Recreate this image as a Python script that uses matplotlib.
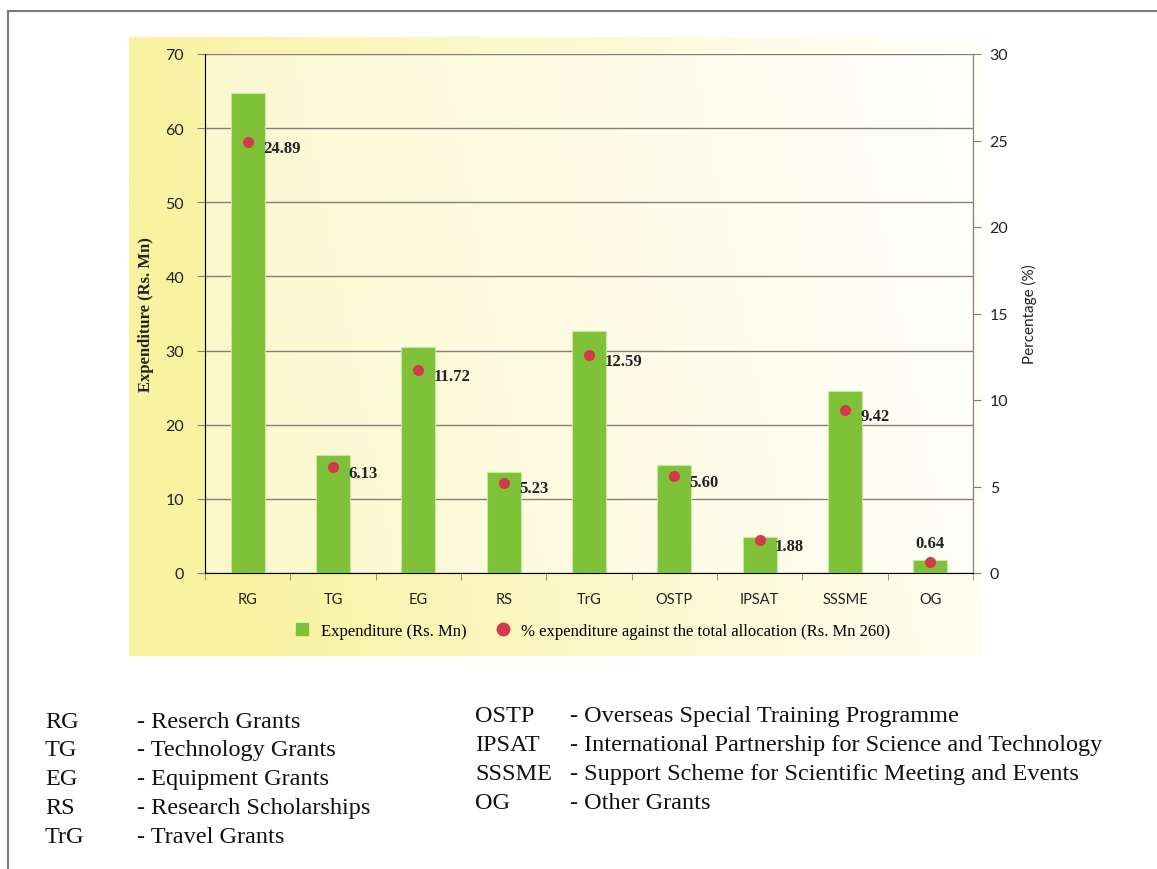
import numpy as np
import matplotlib
matplotlib.use("Agg")
import matplotlib.pyplot as plt
from matplotlib.lines import Line2D

categories = ["RG", "TG", "EG", "RS", "TrG", "OSTP", "IPSAT", "SSSME", "OG"]
expenditure = [64.7, 15.9, 30.5, 13.6, 32.7, 14.6, 4.9, 24.5, 1.7]
percentage = [24.89, 6.13, 11.72, 5.23, 12.59, 5.60, 1.88, 9.42, 0.64]

abbr_left = ["RG", "TG", "EG", "RS", "TrG"]
desc_left = ["- Reserch Grants", "- Technology Grants", "- Equipment Grants",
             "- Research Scholarships", "- Travel Grants"]
abbr_right = ["OSTP", "IPSAT", "SSSME", "OG"]
desc_right = ["- Overseas Special Training Programme",
              "- International Partnership for Science and Technology",
              "- Support Scheme for Scientific Meeting and Events",
              "- Other Grants"]

W, H = 1157, 870
fig = plt.figure(figsize=(W / 100, H / 100), dpi=100)

SERIF = "Liberation Serif"
SANS = "Lato"

# yellow panel behind the chart
bg = fig.add_axes([129 / W, 1 - 657 / H, (981 - 129) / W, (657 - 38) / H])
gx = np.linspace(0, 1, 300)
gy = np.linspace(0, 1, 200)
GX, GY = np.meshgrid(gx, gy)
t = np.clip(GX * 1.05 - 0.15 * (1 - GY), 0, 1) ** 0.9
c0 = np.array([249, 242, 160]) / 255
c1 = np.array([255, 255, 248]) / 255
img = c0[None, None, :] * (1 - t[..., None]) + c1[None, None, :] * t[..., None]
bg.imshow(img, aspect="auto", extent=(0, 1, 0, 1), origin="lower")
bg.set_axis_off()

ax = fig.add_axes([205 / W, 1 - 574 / H, (973 - 205) / W, (574 - 55) / H])
ax.set_facecolor((1, 1, 1, 0.45))
x = np.arange(len(categories))
ax.bar(x, expenditure, width=0.4, color="#80c13a", edgecolor="#c8e89a",
       linewidth=0.8, zorder=3)
ax.set_xlim(-0.5, len(categories) - 0.5)
ax.set_ylim(0, 70)
ax.set_yticks(range(0, 71, 10))
ax.grid(axis="y", color="#8a7d78", linewidth=1.0, zorder=0)
ax.set_xticks(x)
ax.set_xticklabels(categories, fontfamily=SANS, fontsize=10.5, color="#222222")
ax.set_xticks(np.arange(-0.5, len(categories)), minor=True)
ax.tick_params(axis="x", which="major", length=0, pad=14)
ax.tick_params(axis="x", which="minor", length=5, color="#8a7d78")
ax.tick_params(axis="y", length=6, color="#8a7d78", labelsize=11.5,
               labelcolor="#222222", pad=9)
for lab in ax.get_yticklabels():
    lab.set_fontfamily(SANS)
ax.spines["top"].set_visible(False)
for s in ["left", "bottom", "right"]:
    ax.spines[s].set_color("#8a7d78")
ax.set_ylabel("Expenditure (Rs. Mn)", fontfamily=SERIF, fontweight="bold",
              fontsize=12, color="#222222")
ax.yaxis.set_label_coords(-0.066, 0.5)

ax2 = ax.twinx()
ax2.set_ylim(0, 30)
ax2.set_yticks(range(0, 31, 5))
ax2.plot(x, percentage, "o", color="#d43a4c", markersize=7, zorder=5)
for xi, p in zip(x, percentage):
    if p < 1:
        ax2.annotate(f"{p:.2f}", (xi, p), xytext=(0, 8), textcoords="offset points",
                     ha="center", va="bottom", fontfamily=SERIF, fontweight="bold",
                     fontsize=12, color="#222222")
    else:
        ax2.annotate(f"{p:.2f}", (xi, p), xytext=(11, -4), textcoords="offset points",
                     ha="left", va="center", fontfamily=SERIF, fontweight="bold",
                     fontsize=12, color="#222222")
ax2.tick_params(axis="y", length=6, color="#8a7d78", labelsize=11.5,
                labelcolor="#222222", pad=6)
for lab in ax2.get_yticklabels():
    lab.set_fontfamily(SANS)
ax2.spines["top"].set_visible(False)
ax2.spines["right"].set_color("#8a7d78")
ax2.set_ylabel("Percentage (%)", fontfamily=SANS, fontsize=11, color="#222222")
ax2.yaxis.set_label_coords(1.064, 0.5)

handles = [Line2D([], [], marker="s", linestyle="none", color="#80c13a", markersize=9),
           Line2D([], [], marker="o", linestyle="none", color="#d43a4c", markersize=9)]
fig.legend(handles, ["Expenditure (Rs. Mn)",
                     "% expenditure against the total allocation (Rs. Mn 260)"],
           loc="center", bbox_to_anchor=(588 / W, 1 - 632 / H), ncol=2, frameon=False,
           handletextpad=0.1, columnspacing=1.2, prop={"family": SERIF, "size": 12})

# abbreviation key
for i, (a, d) in enumerate(zip(abbr_left, desc_left)):
    yy = 1 - (722 + 29 * i) / H
    fig.text(45 / W, yy, a, fontfamily=SERIF, fontsize=17.5, va="center", color="#111111")
    fig.text(137 / W, yy, d, fontfamily=SERIF, fontsize=17.5, va="center", color="#111111")
for i, (a, d) in enumerate(zip(abbr_right, desc_right)):
    yy = 1 - (717 + 28.7 * i) / H
    fig.text(475 / W, yy, a, fontfamily=SERIF, fontsize=17.5, va="center", color="#111111")
    fig.text(570 / W, yy, d, fontfamily=SERIF, fontsize=17.5, va="center", color="#111111")

# page frame
fig.add_artist(Line2D([8 / W, 1.0], [1 - 12 / H, 1 - 12 / H], color="#7a7a7a", lw=1.5))
fig.add_artist(Line2D([8 / W, 8 / W], [1 - 12 / H, 0], color="#7a7a7a", lw=1.5))

fig.savefig("out.png", dpi=100)
